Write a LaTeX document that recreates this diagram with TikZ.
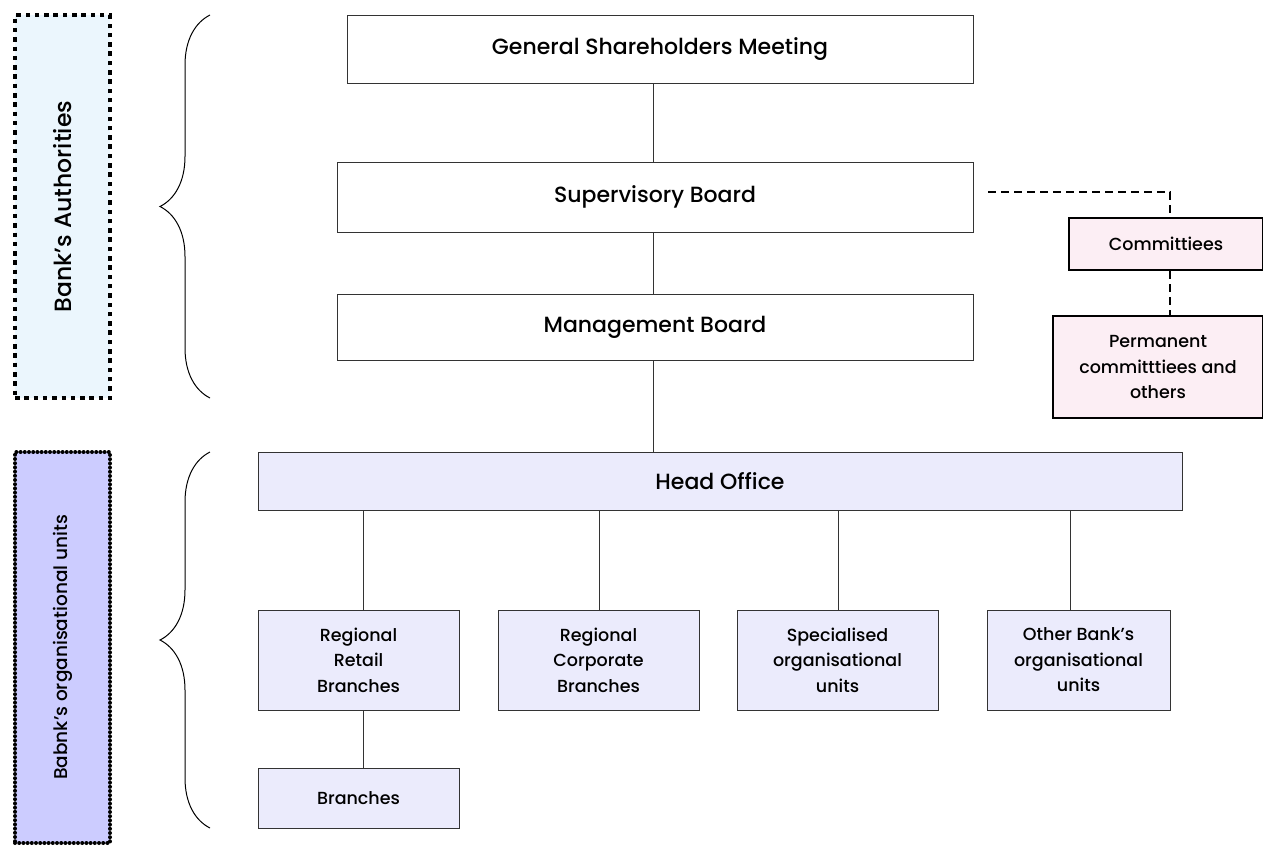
\documentclass[tikz,border=0pt]{standalone}
\usepackage{fontspec}
\IfFontExistsTF{Poppins Medium}{\setmainfont{Poppins Medium}}{\setmainfont{Poppins}}
\usetikzlibrary{decorations.pathreplacing}
\definecolor{lav}{HTML}{EBEBFC}
\definecolor{pinkf}{HTML}{FCEEF4}
\definecolor{lblue}{HTML}{EBF6FD}
\definecolor{purp}{HTML}{CCCCFF}
\definecolor{edge}{HTML}{333333}
\begin{document}
\begin{tikzpicture}[x=1pt,y=-1pt,
  box/.style={draw=edge,line width=1pt,inner sep=0pt,align=center},
  big/.style={font=\fontsize{22}{26}\selectfont},
  small/.style={font=\fontsize{17.5}{25.5}\selectfont},
  conn/.style={draw=edge,line width=1pt},
  dconn/.style={draw=black,line width=1.6pt,dash pattern=on 8pt off 5pt},
  brc/.style={draw=black,line width=1pt,decorate,decoration={brace,amplitude=50pt,aspect=0.5}}]
\useasboundingbox (0,0) rectangle (1263,847);
% top boxes
\node[box,big,fill=white,minimum width=626pt,minimum height=68pt] (gsm) at (660,49) {General Shareholders Meeting};
\node[box,big,fill=white,minimum width=636pt,minimum height=70pt] (sb) at (655,197) {Supervisory Board};
\node[box,big,fill=white,minimum width=636pt,minimum height=66pt] (mb) at (655,327) {Management Board};
\node[box,big,fill=lav,minimum width=924pt,minimum height=58pt] (ho) at (720,481) {Head Office};
% committees
\node[box,small,draw=black,line width=2pt,fill=pinkf,minimum width=194pt,minimum height=52pt] (com) at (1166,244) {Committiees};
\node[box,small,draw=black,line width=2pt,fill=pinkf,minimum width=210pt,minimum height=102pt] (perm) at (1158,367) {Permanent\\committtiees and\\others};
% children
\node[box,small,fill=lav,minimum width=201pt,minimum height=100pt] (rrb) at (358.5,660) {Regional\\Retail\\Branches};
\node[box,small,fill=lav,minimum width=201pt,minimum height=100pt] (rcb) at (598.5,660) {Regional\\Corporate\\Branches};
\node[box,small,fill=lav,minimum width=201pt,minimum height=100pt] (spu) at (837.5,660) {Specialised\\organisational\\units};
\node[box,small,fill=lav,minimum width=183pt,minimum height=100pt] (oth) at (1078.5,660) {Other Bank's\\organisational\\units};
\node[box,small,fill=lav,minimum width=201pt,minimum height=60pt] (br) at (358.5,798) {Branches};
% connectors
\draw[conn] (gsm.south -| 653,0) -- (sb.north -| 653,0);
\draw[conn] (sb.south -| 653,0) -- (mb.north -| 653,0);
\draw[conn] (mb.south -| 653,0) -- (ho.north -| 653,0);
\draw[conn] (ho.south -| 363,0) -- (rrb.north -| 363,0);
\draw[conn] (ho.south -| 599,0) -- (rcb.north -| 599,0);
\draw[conn] (ho.south -| 838,0) -- (spu.north -| 838,0);
\draw[conn] (ho.south -| 1070,0) -- (oth.north -| 1070,0);
\draw[conn] (rrb.south -| 363,0) -- (br.north -| 363,0);
\coordinate (dstart) at (988,192);
\coordinate (dcorner) at (1170,192);
\draw[dconn] (dstart) -- (dcorner) -- (com.north -| dcorner);
\draw[dconn] (com.south -| dcorner) -- (perm.north -| dcorner);
% side labels
\node[draw=black,line width=4.5pt,dash pattern=on 4.5pt off 4.8pt,fill=lblue,minimum width=95pt,minimum height=383pt,inner sep=0pt] (auth) at (62.5,206.5) {};
\node[rotate=90,font=\fontsize{23.5}{26}\selectfont] (authl) at (auth.center) {Bank's Authorities};
\node[draw=black,line width=4pt,line cap=round,dash pattern=on 0pt off 4.2pt,fill=purp,minimum width=95pt,minimum height=391pt,inner sep=0pt] (org) at (62.5,647.5) {};
\node[rotate=90,font=\fontsize{18.5}{20}\selectfont] (orgl) at (org.center) {Babnk's organisational units};
% braces
\coordinate (b1a) at (210,398);
\coordinate (b1b) at (210,15);
\coordinate (b2a) at (210,828);
\coordinate (b2b) at (210,452);
\draw[brc] (b1a) -- (b1b);
\draw[brc] (b2a) -- (b2b);
\end{tikzpicture}
\end{document}
